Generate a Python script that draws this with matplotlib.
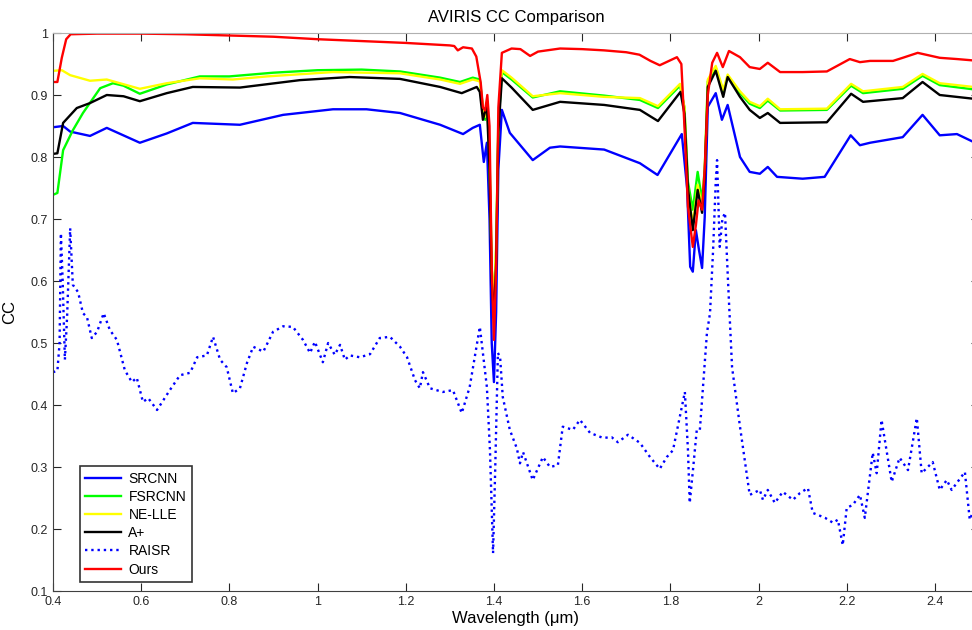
import numpy as np
import matplotlib
matplotlib.use('Agg')
import matplotlib.pyplot as plt
from matplotlib.ticker import FormatStrFormatter, MultipleLocator

plt.rcParams['font.family'] = ['Liberation Sans', 'DejaVu Sans']

# (wavelength um, CC)
srcnn = np.array([
    (0.400, 0.848), (0.423, 0.850), (0.439, 0.841), (0.484, 0.834), (0.522, 0.847),
    (0.597, 0.823), (0.658, 0.838), (0.717, 0.855), (0.824, 0.852), (0.922, 0.868),
    (1.035, 0.877), (1.111, 0.877), (1.187, 0.871), (1.278, 0.852), (1.330, 0.837),
    (1.352, 0.847), (1.368, 0.852), (1.377, 0.792), (1.384, 0.823), (1.390, 0.700),
    (1.395, 0.500), (1.400, 0.437), (1.405, 0.550), (1.410, 0.780), (1.418, 0.876),
    (1.436, 0.839), (1.488, 0.795), (1.527, 0.815), (1.550, 0.817), (1.650, 0.812),
    (1.731, 0.790), (1.771, 0.771), (1.826, 0.837), (1.838, 0.750), (1.845, 0.623),
    (1.851, 0.615), (1.858, 0.682), (1.865, 0.650), (1.872, 0.621), (1.878, 0.703),
    (1.885, 0.881), (1.903, 0.903), (1.917, 0.860), (1.930, 0.884), (1.958, 0.800),
    (1.980, 0.776), (2.003, 0.773), (2.021, 0.784), (2.042, 0.768), (2.100, 0.765),
    (2.150, 0.768), (2.209, 0.835), (2.230, 0.819), (2.253, 0.823), (2.327, 0.832),
    (2.372, 0.868), (2.411, 0.835), (2.450, 0.837), (2.500, 0.820),
])

fsrcnn = np.array([
    (0.400, 0.739), (0.410, 0.742), (0.423, 0.811), (0.445, 0.843), (0.468, 0.871),
    (0.507, 0.911), (0.536, 0.919), (0.560, 0.915), (0.597, 0.902), (0.658, 0.917),
    (0.733, 0.930), (0.800, 0.930), (0.900, 0.936), (1.000, 0.940), (1.100, 0.941),
    (1.187, 0.938), (1.278, 0.928), (1.323, 0.921), (1.352, 0.928), (1.368, 0.925),
    (1.375, 0.880), (1.380, 0.860), (1.385, 0.890), (1.390, 0.800), (1.395, 0.620),
    (1.400, 0.560), (1.405, 0.650), (1.410, 0.850), (1.418, 0.937), (1.440, 0.925),
    (1.488, 0.896), (1.550, 0.906), (1.650, 0.899), (1.731, 0.892), (1.772, 0.879),
    (1.822, 0.915), (1.832, 0.880), (1.840, 0.760), (1.851, 0.715), (1.862, 0.776),
    (1.872, 0.730), (1.878, 0.780), (1.885, 0.922), (1.903, 0.944), (1.920, 0.905),
    (1.930, 0.930), (1.958, 0.903), (1.980, 0.886), (2.003, 0.879), (2.021, 0.891),
    (2.049, 0.875), (2.155, 0.876), (2.210, 0.915), (2.237, 0.903), (2.327, 0.910),
    (2.372, 0.931), (2.411, 0.916), (2.500, 0.908),
])

nelle = np.array([
    (0.400, 0.939), (0.420, 0.940), (0.439, 0.932), (0.484, 0.923), (0.522, 0.925),
    (0.597, 0.910), (0.658, 0.919), (0.733, 0.927), (0.808, 0.925), (0.885, 0.930),
    (1.035, 0.937), (1.187, 0.935), (1.278, 0.925), (1.323, 0.918), (1.352, 0.925),
    (1.368, 0.922), (1.375, 0.880), (1.380, 0.865), (1.385, 0.885), (1.390, 0.790),
    (1.395, 0.620), (1.400, 0.570), (1.405, 0.660), (1.410, 0.860), (1.418, 0.940),
    (1.440, 0.928), (1.488, 0.898), (1.550, 0.903), (1.650, 0.897), (1.731, 0.895),
    (1.772, 0.882), (1.822, 0.918), (1.832, 0.880), (1.840, 0.750), (1.851, 0.690),
    (1.862, 0.755), (1.872, 0.720), (1.878, 0.780), (1.885, 0.925), (1.903, 0.947),
    (1.920, 0.908), (1.930, 0.933), (1.958, 0.906), (1.980, 0.889), (2.003, 0.882),
    (2.021, 0.894), (2.049, 0.877), (2.155, 0.878), (2.210, 0.918), (2.237, 0.906),
    (2.327, 0.913), (2.372, 0.934), (2.411, 0.919), (2.500, 0.912),
])

aplus = np.array([
    (0.400, 0.805), (0.410, 0.806), (0.423, 0.855), (0.454, 0.879), (0.484, 0.887),
    (0.522, 0.900), (0.560, 0.898), (0.597, 0.890), (0.658, 0.903), (0.717, 0.913),
    (0.824, 0.912), (0.960, 0.924), (1.073, 0.929), (1.187, 0.926), (1.278, 0.913),
    (1.327, 0.903), (1.361, 0.913), (1.368, 0.905), (1.375, 0.860), (1.384, 0.884),
    (1.390, 0.780), (1.395, 0.600), (1.400, 0.540), (1.405, 0.630), (1.410, 0.840),
    (1.418, 0.927), (1.440, 0.912), (1.488, 0.876), (1.550, 0.889), (1.650, 0.884),
    (1.731, 0.876), (1.772, 0.858), (1.823, 0.905), (1.832, 0.870), (1.840, 0.750),
    (1.851, 0.682), (1.862, 0.747), (1.872, 0.710), (1.878, 0.770), (1.885, 0.913),
    (1.903, 0.939), (1.920, 0.897), (1.930, 0.929), (1.958, 0.897), (1.980, 0.876),
    (2.003, 0.863), (2.021, 0.871), (2.049, 0.855), (2.155, 0.856), (2.210, 0.902),
    (2.237, 0.889), (2.327, 0.895), (2.372, 0.921), (2.411, 0.900), (2.500, 0.893),
])

raisr = np.array([
    (0.400, 0.453), (0.410, 0.455), (0.415, 0.500), (0.418, 0.677), (0.422, 0.600),
    (0.427, 0.473), (0.432, 0.542), (0.439, 0.685), (0.445, 0.594), (0.457, 0.582),
    (0.468, 0.548), (0.477, 0.542), (0.488, 0.508), (0.500, 0.518), (0.515, 0.548),
    (0.529, 0.521), (0.545, 0.505), (0.563, 0.456), (0.579, 0.437), (0.590, 0.444),
    (0.604, 0.405), (0.616, 0.411), (0.636, 0.392), (0.665, 0.424), (0.688, 0.448),
    (0.711, 0.452), (0.727, 0.477), (0.749, 0.480), (0.763, 0.510), (0.779, 0.473),
    (0.794, 0.461), (0.808, 0.419), (0.824, 0.427), (0.840, 0.468), (0.854, 0.494),
    (0.877, 0.486), (0.899, 0.518), (0.922, 0.527), (0.944, 0.526), (0.967, 0.505),
    (0.983, 0.484), (0.994, 0.502), (1.012, 0.469), (1.024, 0.500), (1.039, 0.481),
    (1.051, 0.497), (1.062, 0.473), (1.073, 0.480), (1.096, 0.477), (1.119, 0.482),
    (1.141, 0.508), (1.164, 0.510), (1.187, 0.494), (1.203, 0.477), (1.221, 0.440),
    (1.232, 0.427), (1.239, 0.453), (1.255, 0.427), (1.284, 0.421), (1.307, 0.424),
    (1.327, 0.387), (1.345, 0.429), (1.368, 0.526), (1.384, 0.429), (1.391, 0.327),
    (1.398, 0.161), (1.403, 0.300), (1.409, 0.484), (1.414, 0.477), (1.420, 0.413),
    (1.436, 0.360), (1.452, 0.330), (1.459, 0.306), (1.466, 0.324), (1.488, 0.279),
    (1.511, 0.316), (1.527, 0.300), (1.545, 0.303), (1.556, 0.365), (1.579, 0.360),
    (1.595, 0.376), (1.618, 0.355), (1.647, 0.347), (1.667, 0.348), (1.681, 0.340),
    (1.704, 0.352), (1.731, 0.339), (1.754, 0.316), (1.776, 0.297), (1.792, 0.316),
    (1.806, 0.327), (1.833, 0.421), (1.840, 0.327), (1.844, 0.242), (1.852, 0.300),
    (1.860, 0.360), (1.867, 0.360), (1.883, 0.516), (1.890, 0.548), (1.897, 0.650),
    (1.903, 0.760), (1.906, 0.795), (1.912, 0.655), (1.918, 0.700), (1.924, 0.710),
    (1.931, 0.597), (1.940, 0.461), (1.958, 0.365), (1.980, 0.255), (2.003, 0.263),
    (2.010, 0.247), (2.021, 0.263), (2.037, 0.242), (2.055, 0.260), (2.078, 0.247),
    (2.094, 0.258), (2.112, 0.266), (2.123, 0.226), (2.151, 0.218), (2.169, 0.210),
    (2.180, 0.215), (2.191, 0.174), (2.200, 0.234), (2.214, 0.239), (2.230, 0.255),
    (2.241, 0.218), (2.259, 0.323), (2.268, 0.290), (2.279, 0.376), (2.302, 0.276),
    (2.320, 0.315), (2.339, 0.295), (2.359, 0.379), (2.370, 0.290), (2.395, 0.308),
    (2.411, 0.263), (2.427, 0.279), (2.438, 0.263), (2.468, 0.292), (2.479, 0.215),
    (2.500, 0.250),
])

ours = np.array([
    (0.400, 0.921), (0.410, 0.921), (0.420, 0.960), (0.430, 0.990), (0.440, 0.998),
    (0.500, 0.999), (0.600, 0.999), (0.700, 0.998), (0.800, 0.996), (0.900, 0.994),
    (1.000, 0.990), (1.100, 0.987), (1.200, 0.984), (1.300, 0.980), (1.310, 0.979),
    (1.318, 0.972), (1.330, 0.977), (1.350, 0.975), (1.360, 0.962), (1.370, 0.920),
    (1.375, 0.880), (1.380, 0.875), (1.385, 0.900), (1.390, 0.850), (1.395, 0.620),
    (1.400, 0.505), (1.405, 0.620), (1.410, 0.880), (1.418, 0.968), (1.440, 0.975),
    (1.460, 0.974), (1.482, 0.963), (1.500, 0.970), (1.550, 0.975), (1.600, 0.974),
    (1.650, 0.972), (1.700, 0.969), (1.730, 0.965), (1.755, 0.955), (1.776, 0.948),
    (1.800, 0.956), (1.815, 0.961), (1.825, 0.950), (1.832, 0.850), (1.840, 0.720),
    (1.851, 0.655), (1.858, 0.690), (1.864, 0.730), (1.872, 0.715), (1.878, 0.780),
    (1.885, 0.900), (1.895, 0.952), (1.906, 0.968), (1.919, 0.945), (1.933, 0.971),
    (1.958, 0.961), (1.980, 0.945), (2.003, 0.942), (2.021, 0.952), (2.049, 0.937),
    (2.100, 0.937), (2.155, 0.938), (2.207, 0.958), (2.230, 0.953), (2.253, 0.955),
    (2.305, 0.955), (2.327, 0.960), (2.361, 0.968), (2.411, 0.960), (2.450, 0.958),
    (2.500, 0.955),
])

series = [
    ('SRCNN', srcnn, '#0000ff', '-'),
    ('FSRCNN', fsrcnn, '#00ff00', '-'),
    ('NE-LLE', nelle, '#ffff00', '-'),
    ('A+', aplus, 'k', '-'),
    ('RAISR', raisr, '#0000ff', ':'),
    ('Ours', ours, '#ff0000', '-'),
]

fig = plt.figure(figsize=(9.72, 6.3), dpi=100)
ax = fig.add_axes([0.0545, 0.0619, 0.9527, 0.8857])

for name, d, c, ls in series:
    ax.plot(d[:, 0], d[:, 1], color=c, linestyle=ls, linewidth=1.7, label=name)

ax.set_xlim(0.4, 2.5)
ax.set_ylim(0.1, 1.0)
ax.xaxis.set_major_locator(MultipleLocator(0.2))
ax.yaxis.set_major_locator(MultipleLocator(0.1))
ax.xaxis.set_major_formatter(FormatStrFormatter('%g'))
ax.yaxis.set_major_formatter(FormatStrFormatter('%g'))
ax.tick_params(direction='in', top=True, right=True, length=6, labelsize=9,
               colors='#262626')
for s in ax.spines.values():
    s.set_color('#404040')
ax.spines['top'].set_color('#b0b0b0')

ax.set_title('AVIRIS CC Comparison', fontsize=12, pad=8)
ax.set_xlabel('Wavelength (μm)', fontsize=12, labelpad=2)
ax.set_ylabel('CC', fontsize=12, labelpad=10)

leg = ax.legend(loc='lower left', bbox_to_anchor=(0.029, 0.016), borderaxespad=0,
                fancybox=False, edgecolor='#333333', framealpha=1, fontsize=10,
                handlelength=2.6, handletextpad=0.5, labelspacing=0.3, borderpad=0.4)
leg.get_frame().set_linewidth(1.2)

fig.savefig('out.png', dpi=100)
